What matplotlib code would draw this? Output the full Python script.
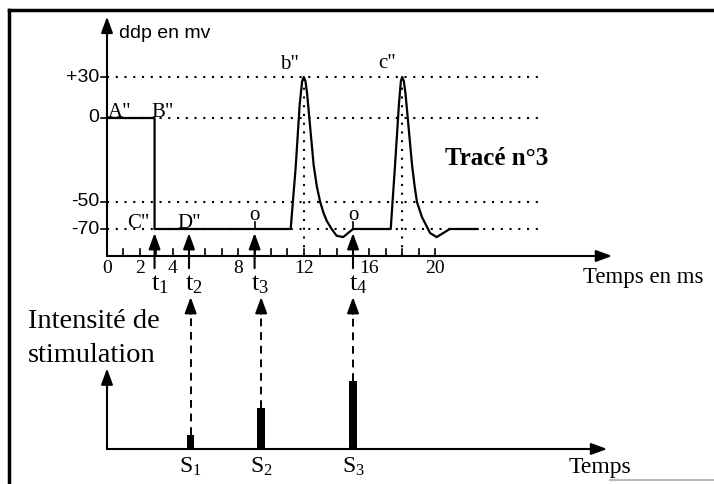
import numpy as np
import matplotlib
matplotlib.use('Agg')
from matplotlib import pyplot as plt
from matplotlib.lines import Line2D

plt.rcParams['font.family'] = 'Liberation Serif'
plt.rcParams['mathtext.default'] = 'regular'

# Trace n°3 : time (ms) and membrane potential (mV)
trace_t = [0, 2.9, 2.9, 11.2, 11.5, 11.75, 11.9, 12.0, 12.1, 12.2, 12.3, 12.45, 12.6, 12.8,
           13.0, 13.2, 13.4, 13.7, 14.0, 14.4, 14.7, 15.0,
           17.3, 17.55, 17.8, 17.92, 18.0, 18.1, 18.2, 18.3, 18.45, 18.6, 18.75,
           18.9, 19.2, 19.45, 19.7, 20.1, 20.5, 20.9, 22.6]
trace_mv = [0, 0, -70, -70, -30, 10, 27, 30, 27, 18, 5, -12, -28, -41,
            -50, -58, -64, -70, -75, -76, -73, -70,
            -70, -30, 10, 27, 30, 27, 18, 5, -12, -28, -40,
            -50, -61, -67, -73, -76, -73, -70, -70]

ref_levels = [30, 0, -50, -70]
ref_labels = ['+30', '0', '-50', '-70']
peak_times = [12, 18]
xtick_values = [0, 2, 4, 8, 12, 16, 20]
stim_marks = [2.9, 5, 9, 15]
stim_names = ['t$_1$', 't$_2$', 't$_3$', 't$_4$']
o_times = [9, 15]

# stimulations (bottom panel)
stim_x = [5.1, 9.4, 15.0]
stim_height = [0.9, 2.7, 4.5]
stim_labels = ['S$_1$', 'S$_2$', 'S$_3$']

# the drawing is not to scale on the voltage axis
mv_pts = [-300, -90, -70, -50, 0, 30, 300]
px_pts = [-283.5, 0, 27, 54, 138, 179, 548.9]
fwd = lambda v: np.interp(v, mv_pts, px_pts)
inv = lambda p: np.interp(p, px_pts, mv_pts)

fig = plt.figure(figsize=(7.14, 4.84), dpi=100)
W, H = 714, 484

ax = fig.add_axes([90.6 / W, (H - 283) / H, 33 * 16.4 / W, 267.65 / H])
ax.set_yscale('function', functions=(fwd, inv))
ax.set_xlim(-1, 32)
ax.set_ylim(-110, 75)
ax.axis('off')

head = dict(arrowstyle='-|>,head_length=0.6,head_width=0.22', color='black',
            lw=1.5, mutation_scale=16, shrinkA=0, shrinkB=0)

# axes
ax.annotate('', xy=(0, 74), xytext=(0, -90), arrowprops=head, annotation_clip=False)
ax.annotate('', xy=(30.8, -90), xytext=(0, -90), arrowprops=head, annotation_clip=False)
for t in range(1, 21):
    ax.plot([t, t], [-90, -84.5], color='black', lw=1.2)

# dotted reference lines
for lvl, lab in zip(ref_levels, ref_labels):
    ax.plot([0, 26.6], [lvl, lvl], color='black', lw=1.5, linestyle=(0, (1, 3.2)))
    ax.plot([-0.35, 0], [lvl, lvl], color='black', lw=1.2)
    ax.text(-0.45, lvl, lab, ha='right', va='center', fontsize=14, family='Liberation Sans')
for pt in peak_times:
    ax.plot([pt, pt], [-90, 30], color='black', lw=1.5, linestyle=(0, (1, 3.2)))

ax.plot(trace_t, trace_mv, color='black', lw=1.6)

# o marks
for t in o_times:
    ax.plot([t, t], [-70, -65], color='black', lw=1.2)
    ax.text(t, -60, 'o', ha='center', va='center', fontsize=15)

# stimulation arrows
for t, name in zip(stim_marks, stim_names):
    ax.annotate('', xy=(t, -73), xytext=(t, -99), arrowprops=head, annotation_clip=False)
    ax.text(t + 0.3, -111.5, name, ha='center', va='center', fontsize=19)

for v in xtick_values:
    ax.text(v, -99.5, str(v), ha='center', va='center', fontsize=14)

ax.text(0.73, 62, 'ddp en mv', ha='left', va='center', fontsize=14, family='Liberation Sans')
ax.text(0.05, 1, 'A"', ha='left', va='baseline', fontsize=15)
ax.text(2.7, 1, 'B"', ha='left', va='baseline', fontsize=15)
ax.text(1.2, -69, 'C"', ha='left', va='baseline', fontsize=15)
ax.text(4.3, -69, 'D"', ha='left', va='baseline', fontsize=15)
ax.text(11.1, 39, 'b"', ha='center', va='center', fontsize=15)
ax.text(17.1, 40, 'c"', ha='center', va='center', fontsize=15)
ax.text(20.6, -24, 'Tracé n°3', ha='left', va='center', fontsize=18, fontweight='bold')
ax.text(29.0, -105.6, 'Temps en ms', ha='left', va='center', fontsize=16.5)

# bottom panel
ax2 = fig.add_axes([90.6 / W, (H - 479.4) / H, 33 * 16.4 / W, 190 / H])
ax2.set_xlim(-1, 32)
ax2.set_ylim(-2, 10.5)
ax2.axis('off')

ax2.annotate('', xy=(0, 5.3), xytext=(0, 0), arrowprops=head, annotation_clip=False)
ax2.annotate('', xy=(30.5, 0), xytext=(0, 0), arrowprops=head, annotation_clip=False)
ax2.bar(stim_x, stim_height, width=0.45, color='black', align='center')
for x, h, lab in zip(stim_x, stim_height, stim_labels):
    ax2.plot([x, x], [h, 9.0], color='black', lw=1.4, linestyle=(0, (4, 3)))
    ax2.annotate('', xy=(x, 10), xytext=(x, 8.9), arrowprops=head, annotation_clip=False)
    ax2.text(x, -1.15, lab, ha='center', va='center', fontsize=17)

ax2.text(-4.82, 8.36, 'Intensité de', ha='left', va='center', fontsize=20.5)
ax2.text(-4.82, 6.18, 'stimulation', ha='left', va='center', fontsize=20.5)
ax2.text(30.06, -1.25, 'Temps', ha='center', va='center', fontsize=17)

# page frame of the scan
fig.add_artist(Line2D([9 / W, 1], [1 - 10 / H, 1 - 10 / H], color='black', lw=2.5))
fig.add_artist(Line2D([9 / W, 9 / W], [0, 1 - 10 / H], color='black', lw=2.5))
fig.add_artist(Line2D([610 / W, 1], [4 / H, 4 / H], color='#bbbbbb', lw=1.5))

plt.savefig('out.png', dpi=100)
